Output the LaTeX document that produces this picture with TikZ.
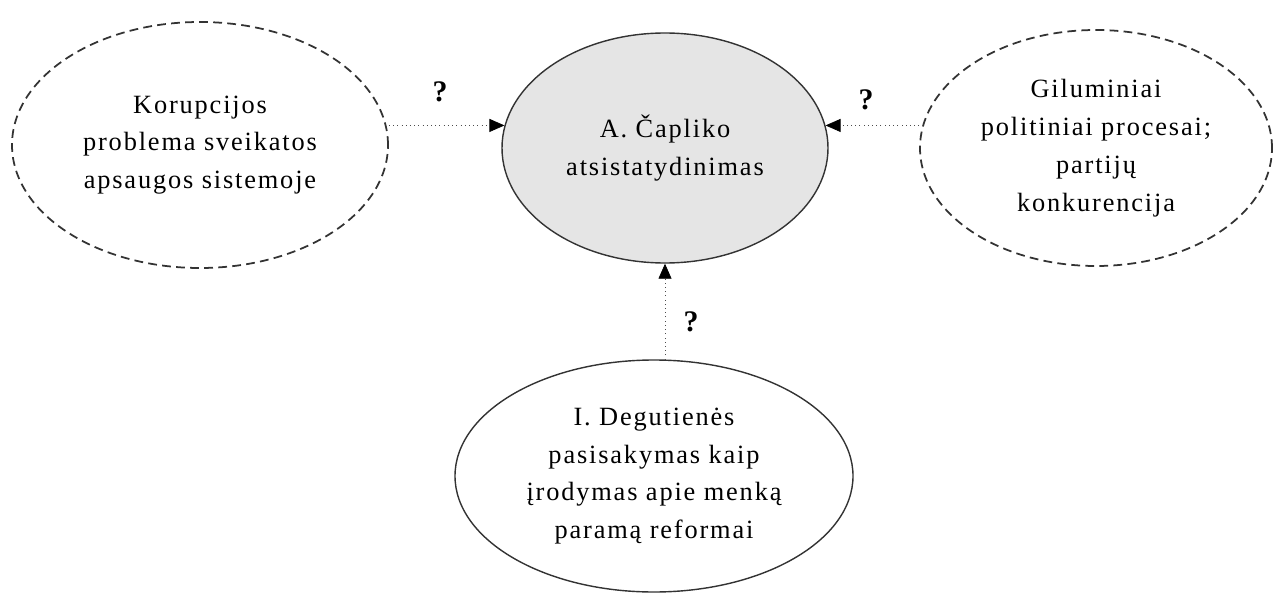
\documentclass[tikz,border=0pt]{standalone}
\usepackage{fontspec}
\setmainfont{Liberation Serif}[LetterSpace=7]
\usetikzlibrary{shapes.geometric, arrows.meta, calc}

\begin{document}
\begin{tikzpicture}[
    factor/.style={ellipse, draw=black!80, inner sep=0pt, align=center,
        font=\fontsize{15}{21.5}\selectfont},
    hidden/.style={factor, dashed, dash pattern=on 5pt off 3pt, line width=1pt},
    link/.style={dotted, thin, draw=black!70, -{Triangle[length=0.3cm, width=0.26cm, color=black, fill=black]}},
    ask/.style={font=\fontsize{17}{20}\selectfont\bfseries}
  ]
            \useasboundingbox (0,0) rectangle (25.54,11.88);

            \node[factor, fill=black!10, line width=0.8pt, minimum width=6.52cm, minimum height=4.6cm]
                (cap) at (13.30,8.92) {A. Čapliko\\atsistatydinimas};
            \node[hidden, minimum width=7.52cm, minimum height=4.92cm]
                (kor) at (4.00,8.98) {Korupcijos\\problema sveikatos\\apsaugos sistemoje};
            \node[hidden, minimum width=7.04cm, minimum height=4.72cm]
                (gil) at (21.92,8.92) {Giluminiai\\politiniai procesai;\\partijų\\konkurencija};
            \node[factor, line width=0.8pt, minimum width=7.96cm, minimum height=4.64cm]
                (deg) at (13.08,2.36) {I. Degutienės\\pasisakymas kaip\\įrodymas apie menką\\paramą reformai};

            \draw[link] (kor.east |- cap.172) -- (cap.172);
            \draw[link] (gil.west |- cap.8) -- (cap.8);
            \draw[link] (deg.north -| cap.south) -- (cap.south);

            \node[ask] (q1) at (8.80,10.04) {?};
            \node[ask] (q2) at (17.32,9.88) {?};
            \node[ask] (q3) at (13.82,5.44) {?};
        \end{tikzpicture}
\end{document}
